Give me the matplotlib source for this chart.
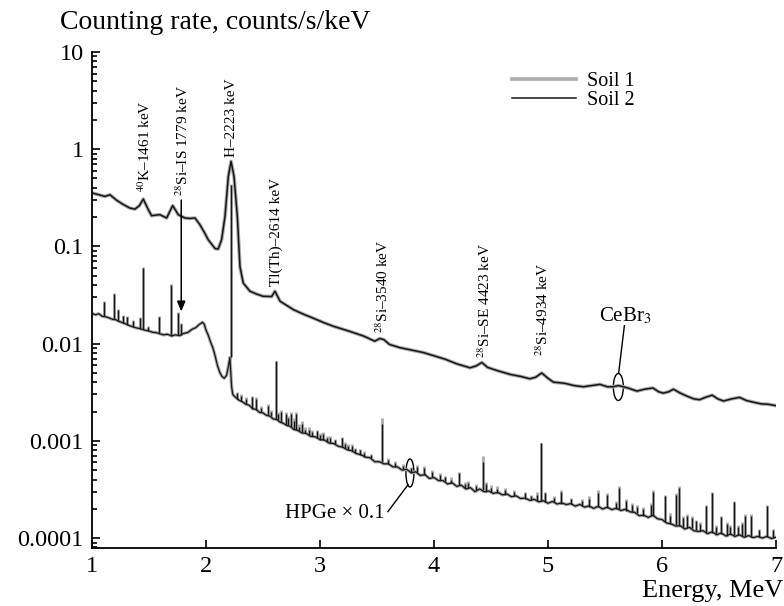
import numpy as np
import matplotlib
matplotlib.use("Agg")
import matplotlib.pyplot as plt
from matplotlib.patches import Ellipse
from matplotlib.ticker import NullFormatter, NullLocator, LogLocator
from matplotlib.transforms import ScaledTranslation

plt.rcParams['font.family'] = ['Liberation Serif', 'DejaVu Serif']
plt.rcParams['mathtext.fontset'] = 'stix'

# CeBr3 spectrum (Soil 1 and Soil 2 lie on top of each other), counts/s/keV
cebr3_energy = [1.00, 1.06, 1.114, 1.158, 1.217, 1.27, 1.333, 1.377, 1.415, 1.45,
                1.494, 1.523, 1.56, 1.596, 1.655, 1.708, 1.757, 1.816, 1.86, 1.904,
                1.947, 1.985, 2.02, 2.08, 2.107, 2.137, 2.167, 2.196, 2.22, 2.246,
                2.275, 2.298, 2.327, 2.386, 2.44, 2.50, 2.576, 2.605, 2.65, 2.766,
                2.85, 2.94, 3.03, 3.117, 3.25, 3.38, 3.48, 3.526, 3.56, 3.61,
                3.70, 3.80, 3.906, 4.00, 4.10, 4.20, 4.316, 4.37, 4.42, 4.47,
                4.55, 4.67, 4.76, 4.84, 4.89, 4.945, 5.00, 5.047, 5.15, 5.23,
                5.31, 5.38, 5.456, 5.52, 5.57, 5.62, 5.70, 5.78, 5.85, 5.92,
                5.97, 6.01, 6.06, 6.10, 6.16, 6.22, 6.28, 6.33, 6.38, 6.44,
                6.49, 6.54, 6.61, 6.68, 6.74, 6.80, 6.87, 6.93, 7.00]
cebr3_rate = [0.355, 0.340, 0.327, 0.340, 0.298, 0.272, 0.248, 0.242, 0.262, 0.307,
              0.239, 0.207, 0.210, 0.212, 0.196, 0.263, 0.212, 0.196, 0.194, 0.196,
              0.167, 0.140, 0.117, 0.095, 0.094, 0.117, 0.204, 0.525, 0.75, 0.525,
              0.204, 0.062, 0.042, 0.0346, 0.0325, 0.0307, 0.0305, 0.0346, 0.0273, 0.0224,
              0.0202, 0.0183, 0.0165, 0.0151, 0.0135, 0.0120, 0.0106, 0.0113, 0.0110, 0.0098,
              0.0091, 0.0086, 0.0081, 0.0075, 0.0069, 0.0062, 0.00564, 0.0059, 0.0064, 0.0057,
              0.0053, 0.00482, 0.0046, 0.00435, 0.0045, 0.00499, 0.0044, 0.00402, 0.0039, 0.0037,
              0.0036, 0.0037, 0.00381, 0.0036, 0.0036, 0.0037, 0.0035, 0.00325, 0.0034, 0.0035,
              0.0032, 0.0031, 0.0032, 0.0034, 0.0031, 0.00288, 0.0027, 0.00265, 0.0028, 0.00295,
              0.0027, 0.00257, 0.0027, 0.0028, 0.0026, 0.0025, 0.0024, 0.00238, 0.0023]

# HPGe x 0.1 continuum (energy MeV, rate)
hpge_continuum = [
    (1.00, 0.0205), (1.03, 0.0198), (1.06, 0.0203), (1.09, 0.0191), (1.12, 0.0189),
    (1.15, 0.0184), (1.18, 0.0178), (1.21, 0.0176), (1.24, 0.0169), (1.27, 0.0164),
    (1.30, 0.0159), (1.33, 0.0153), (1.36, 0.0149), (1.39, 0.0145), (1.42, 0.0143),
    (1.46, 0.0138), (1.50, 0.0135), (1.53, 0.0131), (1.56, 0.0130), (1.60, 0.0126),
    (1.63, 0.0123), (1.66, 0.0125), (1.70, 0.0120), (1.73, 0.0123), (1.77, 0.0121),
    (1.80, 0.0127), (1.84, 0.0130), (1.88, 0.0141), (1.91, 0.0146), (1.94, 0.0157),
    (1.97, 0.0166), (1.985, 0.0158), (2.00, 0.0138), (2.02, 0.0122), (2.04, 0.0104),
    (2.06, 0.0091), (2.08, 0.0075), (2.10, 0.0060), (2.12, 0.0051), (2.14, 0.0046),
    (2.16, 0.0044), (2.18, 0.0047), (2.195, 0.0057), (2.21, 0.0072), (2.225, 0.0036),
    (2.235, 0.0030), (2.26, 0.0028), (2.29, 0.00262), (2.32, 0.00252), (2.35, 0.00238),
    (2.38, 0.00232), (2.41, 0.00214), (2.44, 0.00211), (2.47, 0.00196), (2.50, 0.00194),
    (2.53, 0.00183), (2.56, 0.00180), (2.59, 0.00168), (2.62, 0.00166), (2.65, 0.00156),
    (2.68, 0.00151), (2.71, 0.00144), (2.74, 0.00141), (2.77, 0.00131), (2.80, 0.00129),
    (2.84, 0.00121), (2.88, 0.00119), (2.92, 0.00111), (2.96, 0.00110), (3.00, 0.00103),
    (3.04, 0.00102), (3.08, 0.00095), (3.12, 0.00094), (3.16, 0.00088), (3.20, 0.00086),
    (3.24, 0.00081), (3.28, 0.00079), (3.32, 0.00074), (3.36, 0.00072), (3.40, 0.00068),
    (3.44, 0.00067), (3.48, 0.00061), (3.52, 0.00061), (3.56, 0.00058), (3.60, 0.00058),
    (3.64, 0.00054), (3.68, 0.00054), (3.72, 0.00050), (3.76, 0.00051), (3.80, 0.00047),
    (3.84, 0.00048), (3.88, 0.00044), (3.92, 0.00045), (3.96, 0.00041), (4.00, 0.00042),
    (4.04, 0.00039), (4.08, 0.00039), (4.12, 0.00036), (4.16, 0.00037), (4.20, 0.00034),
    (4.24, 0.00035), (4.28, 0.00032), (4.32, 0.00033), (4.36, 0.00030), (4.40, 0.00032),
    (4.44, 0.00030), (4.48, 0.000305), (4.52, 0.000288), (4.56, 0.000295), (4.60, 0.000278),
    (4.64, 0.000284), (4.68, 0.000266), (4.72, 0.000272), (4.76, 0.000255), (4.80, 0.000258),
    (4.84, 0.000244), (4.88, 0.000250), (4.92, 0.000236), (4.96, 0.000242), (5.00, 0.000228),
    (5.04, 0.000238), (5.08, 0.000224), (5.12, 0.000230), (5.16, 0.000221), (5.20, 0.000226),
    (5.24, 0.000213), (5.28, 0.000222), (5.32, 0.000208), (5.36, 0.000214), (5.40, 0.000202),
    (5.44, 0.000212), (5.48, 0.000199), (5.52, 0.000208), (5.56, 0.000196), (5.60, 0.000203),
    (5.64, 0.000192), (5.68, 0.000198), (5.72, 0.000186), (5.76, 0.000184), (5.80, 0.000170),
    (5.84, 0.000172), (5.88, 0.000163), (5.92, 0.000172), (5.96, 0.000158), (6.00, 0.000155),
    (6.04, 0.000143), (6.08, 0.000140), (6.12, 0.000133), (6.16, 0.000134), (6.20, 0.000124),
    (6.24, 0.000129), (6.28, 0.000119), (6.32, 0.000117), (6.36, 0.000119), (6.40, 0.000111),
    (6.44, 0.000116), (6.48, 0.000108), (6.52, 0.000113), (6.56, 0.000105), (6.60, 0.000110),
    (6.64, 0.000104), (6.68, 0.000108), (6.72, 0.000102), (6.76, 0.000106), (6.80, 0.000101),
    (6.84, 0.000104), (6.88, 0.000100), (6.92, 0.000104), (6.96, 0.000099), (7.00, 0.000102),
]

# HPGe x 0.1 gamma lines: (energy MeV, base, top Soil 2, top Soil 1)
hpge_lines = [
    (1.105, 0.0192, 0.0270, 0.0275), (1.193, 0.0178, 0.0327, 0.0330),
    (1.228, 0.0172, 0.0222, 0.0226), (1.272, 0.0164, 0.0193, 0.0196),
    (1.310, 0.0157, 0.0190, 0.0192), (1.360, 0.0149, 0.0170, 0.0173),
    (1.418, 0.0142, 0.0184, 0.0187), (1.447, 0.0140, 0.0600, 0.0610),
    (1.490, 0.0135, 0.0149, 0.0152), (1.585, 0.0128, 0.0189, 0.0192),
    (1.696, 0.0121, 0.0405, 0.0410), (1.755, 0.0122, 0.0207, 0.0210),
    (1.780, 0.0123, 0.0160, 0.0163), (2.220, 0.0072, 0.4300, 0.4400),
    (2.270, 0.0027, 0.0031, 0.0032), (2.310, 0.00255, 0.0029, 0.0030),
    (2.350, 0.0024, 0.0027, 0.0028), (2.400, 0.00215, 0.0028, 0.0029),
    (2.440, 0.0021, 0.0027, 0.0028), (2.480, 0.00196, 0.0022, 0.0023),
    (2.540, 0.00183, 0.0023, 0.0024), (2.570, 0.00178, 0.0020, 0.0021),
    (2.610, 0.00166, 0.0066, 0.0067), (2.630, 0.00164, 0.0019, 0.0020),
    (2.660, 0.00156, 0.0020, 0.0021), (2.700, 0.00147, 0.0019, 0.0020),
    (2.720, 0.00144, 0.0017, 0.0018), (2.750, 0.00139, 0.0019, 0.0020),
    (2.770, 0.00132, 0.0016, 0.0017), (2.790, 0.0013, 0.0019, 0.0020),
    (2.820, 0.00125, 0.0014, 0.0015), (2.840, 0.00122, 0.0015, 0.0016),
    (2.870, 0.00119, 0.0013, 0.0014), (2.900, 0.00115, 0.0013, 0.0014),
    (2.930, 0.00111, 0.00124, 0.0013), (2.970, 0.00108, 0.00125, 0.0013),
    (3.000, 0.00103, 0.00114, 0.0012), (3.030, 0.00102, 0.00118, 0.00122),
    (3.060, 0.00098, 0.00108, 0.00112), (3.090, 0.00095, 0.00108, 0.00112),
    (3.130, 0.00093, 0.00101, 0.00105), (3.190, 0.00086, 0.00107, 0.00110),
    (3.220, 0.00084, 0.00093, 0.00097), (3.250, 0.00081, 0.00089, 0.00093),
    (3.280, 0.00078, 0.00088, 0.00092), (3.310, 0.00075, 0.00082, 0.00085),
    (3.350, 0.00072, 0.00080, 0.00083), (3.390, 0.00069, 0.00075, 0.00078),
    (3.450, 0.00066, 0.00071, 0.00074), (3.540, 0.00060, 0.0015, 0.0017),
    (3.600, 0.00058, 0.00063, 0.00066), (3.660, 0.00054, 0.00059, 0.00062),
    (3.730, 0.00051, 0.00055, 0.00058), (3.800, 0.00047, 0.00052, 0.00054),
    (3.850, 0.00048, 0.00054, 0.00056), (3.910, 0.00045, 0.00053, 0.00055),
    (3.980, 0.00042, 0.00048, 0.00050), (4.050, 0.00040, 0.00045, 0.00047),
    (4.100, 0.00039, 0.00042, 0.00044), (4.150, 0.00037, 0.00040, 0.00042),
    (4.220, 0.00035, 0.000465, 0.00048), (4.270, 0.00033, 0.00036, 0.00038),
    (4.300, 0.00033, 0.00037, 0.00039), (4.370, 0.00031, 0.00034, 0.00036),
    (4.430, 0.00031, 0.00060, 0.00070), (4.460, 0.00030, 0.00036, 0.00038),
    (4.500, 0.00030, 0.00033, 0.00035), (4.550, 0.00029, 0.00032, 0.00034),
    (4.620, 0.00028, 0.00031, 0.00033), (4.700, 0.00027, 0.00030, 0.00031),
    (4.800, 0.000252, 0.00029, 0.00030), (4.850, 0.000246, 0.00027, 0.00028),
    (4.900, 0.000243, 0.00028, 0.00030), (4.940, 0.00024, 0.00094, 0.00096),
    (4.970, 0.000236, 0.00029, 0.00030), (5.050, 0.000235, 0.00026, 0.00027),
    (5.110, 0.000226, 0.00030, 0.00031), (5.200, 0.000224, 0.00025, 0.00026),
    (5.300, 0.000212, 0.00024, 0.00025), (5.360, 0.00021, 0.00025, 0.00027),
    (5.440, 0.000207, 0.000294, 0.00031), (5.515, 0.000203, 0.00028, 0.00029),
    (5.600, 0.0002, 0.00023, 0.00024), (5.620, 0.000197, 0.00033, 0.00034),
    (5.680, 0.000192, 0.00024, 0.00025), (5.740, 0.000185, 0.00022, 0.00023),
    (5.780, 0.000182, 0.00021, 0.00022), (5.830, 0.00017, 0.0002, 0.00021),
    (5.900, 0.000167, 0.00022, 0.00023), (5.925, 0.000167, 0.00030, 0.00031),
    (6.026, 0.000148, 0.00027, 0.00028), (6.070, 0.00014, 0.00017, 0.00018),
    (6.120, 0.000135, 0.00028, 0.00029), (6.145, 0.000134, 0.00033, 0.00034),
    (6.180, 0.00013, 0.00016, 0.00017), (6.220, 0.000126, 0.000168, 0.000175),
    (6.260, 0.000126, 0.00016, 0.000168), (6.300, 0.00012, 0.00015, 0.000155),
    (6.330, 0.000117, 0.00014, 0.000145), (6.390, 0.000114, 0.000213, 0.00022),
    (6.440, 0.000114, 0.00029, 0.00030), (6.470, 0.00011, 0.00013, 0.000135),
    (6.520, 0.00011, 0.000163, 0.00017), (6.570, 0.000106, 0.00014, 0.000145),
    (6.600, 0.00011, 0.00013, 0.000135), (6.630, 0.000107, 0.000234, 0.00024),
    (6.670, 0.000107, 0.00013, 0.000135), (6.700, 0.000104, 0.00014, 0.000145),
    (6.730, 0.000103, 0.00017, 0.000175), (6.780, 0.000103, 0.00017, 0.000175),
    (6.850, 0.000103, 0.00012, 0.000125), (6.920, 0.000102, 0.000215, 0.00022),
    (6.970, 0.0001, 0.00012, 0.000125),
]

# vertical peak labels: text, energy, rate at the foot of the text
peak_labels = [
    ("$^{40}$K\u20131461 keV", 1.465, 0.365),
    ("$^{28}$Si\u2013IS 1779 keV", 1.794, 0.332),
    ("H\u20132223 keV", 2.22, 0.84),
    ("Tl(Th)\u20132614 keV", 2.615, 0.0388),
    ("$^{28}$Si\u20133540 keV", 3.553, 0.0130),
    ("$^{28}$Si\u2013SE 4423 keV", 4.447, 0.0071),
    ("$^{28}$Si\u20134934 keV", 4.952, 0.0075),
]

soil_names = ["Soil 1", "Soil 2"]
soil_colors = ["#ababab", "#161616"]

fig, ax = plt.subplots(figsize=(7.84, 6.06), dpi=100)
fig.subplots_adjust(left=0.1173, right=0.9898, bottom=0.0957, top=0.9142)

hpge_e, hpge_r = np.array(hpge_continuum).T
line_e, line_base, line_top2, line_top1 = np.array(hpge_lines).T

# Soil 1 (grey) underneath, Soil 2 (black) on top
s1, = ax.plot(cebr3_energy, cebr3_rate, color=soil_colors[0], lw=2.6)
ax.plot(hpge_e, hpge_r, color=soil_colors[0], lw=2.4)
ax.vlines(line_e, line_base, line_top1, color=soil_colors[0], lw=2.0)
s2, = ax.plot(cebr3_energy, cebr3_rate, color=soil_colors[1], lw=1.1)
ax.plot(hpge_e, hpge_r, color=soil_colors[1], lw=0.9)
ax.vlines(line_e, line_base, line_top2, color=soil_colors[1], lw=1.0)

for txt, e, r in peak_labels:
    ax.text(e, r, txt, rotation=90, ha='center', va='bottom', fontsize=11)

# arrow from the Si-IS label down to the HPGe line
ax.annotate('', xy=(1.783, 0.0214), xytext=(1.783, 0.30),
            arrowprops=dict(arrowstyle='-|>,head_length=0.6,head_width=0.25',
                            color='black', lw=1.1, mutation_scale=10,
                            shrinkA=0, shrinkB=0))

# detector callouts
def ellipse(x, y, w, h):
    tr = fig.dpi_scale_trans + ScaledTranslation(x, y, ax.transData)
    ax.add_patch(Ellipse((0, 0), w, h, transform=tr, fill=False, lw=1.0, color='black'))

ellipse(5.617, 0.00358, 0.10, 0.27)
ax.plot([5.67, 5.62], [0.0153, 0.00502], color='black', lw=1.0)
ax.text(5.675, 0.0169, "CeBr$_3$", ha='center', va='baseline', fontsize=15)

ellipse(3.789, 0.000467, 0.08, 0.28)
ax.plot([3.596, 3.772], [0.000187, 0.000353], color='black', lw=1.0)
ax.text(3.57, 0.000162, "HPGe \u00d7 0.1", ha='right', va='baseline', fontsize=15)

ax.set_yscale('log')
ax.set_xlim(1, 7)
ax.set_ylim(7.9e-5, 10)
ax.set_xticks([1, 2, 3, 4, 5, 6, 7])
ax.xaxis.set_minor_locator(NullLocator())
ax.set_yticks([1e-4, 1e-3, 1e-2, 1e-1, 1, 10],
              labels=["0.0001", "0.001", "0.01", "0.1", "1", "10"])
ax.yaxis.set_minor_locator(LogLocator(base=10, subs=np.arange(2, 10)))
ax.yaxis.set_minor_formatter(NullFormatter())
ax.tick_params(which='both', direction='in', width=1.2)
ax.tick_params(which='major', length=6, labelsize=17.5, pad=6)
ax.tick_params(which='minor', length=3.5)
for side in ['top', 'right']:
    ax.spines[side].set_visible(False)
for side in ['left', 'bottom']:
    ax.spines[side].set_linewidth(1.3)

ax.legend([s1, s2], soil_names, loc='upper left', bbox_to_anchor=(0.614, 0.96),
          frameon=False, fontsize=14.5, handlelength=3.2, handletextpad=0.55,
          labelspacing=0.0, borderpad=0, borderaxespad=0)

fig.text(60 / 784, 1 - 29 / 606, "Counting rate, counts/s/keV", fontsize=20,
         ha='left', va='baseline')
fig.text(783 / 784, 1 - 597 / 606, "Energy, MeV", fontsize=19,
         ha='right', va='baseline')

fig.savefig("out.png", dpi=100)
